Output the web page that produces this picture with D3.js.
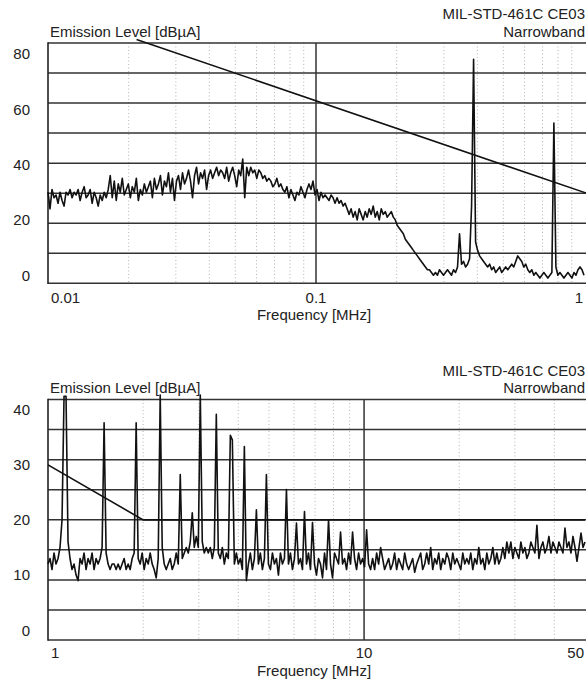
<!DOCTYPE html>
<html>
<head>
<meta charset="utf-8">
<script src="https://cdn.jsdelivr.net/npm/d3@7"></script>
<style>
  html, body { margin: 0; background: #fff; }
  svg { display: block; }
</style>
</head>
<body>
<div id="chart"></div>
<script>
// CE03 narrowband conducted emission scans, two sweeps (MHz, dBuA)

const titleLines = ['MIL-STD-461C CE03', 'Narrowband'];
const yTitle = 'Emission Level [dBµA]';
const xTitle = 'Frequency [MHz]';

// sweep 1: 10 kHz .. 1 MHz, log spaced receiver points
const lowSweep = [0.01, 1];
const lowTicks = [0.01, 0.1, 1];
const lowTickLabels = ['0.01', '0.1', '1'];
const lowYTicks = [0, 20, 40, 60, 80];
const lowLevels = [
  30, 24, 31, 28, 29, 26, 30, 27, 25, 30,
  29, 31, 28, 30, 29, 31, 27, 30, 32, 28,
  29, 31, 26, 30, 28, 25, 29, 27, 30, 28,
  31, 36, 28, 34, 27, 33, 30, 35, 29, 31,
  33, 28, 32, 30, 35, 27, 31, 29, 33, 30,
  32, 34, 28, 35, 31, 33, 36, 29, 34, 32,
  37, 30, 35, 27, 34, 36, 31, 37, 33, 35,
  38, 34, 28, 36, 39, 33, 37, 35, 38, 31,
  36, 38, 35, 37, 39, 36, 38, 37, 35, 39,
  34, 37, 39, 36, 32, 38, 36, 42, 28, 39,
  36, 39, 37, 38, 35, 38, 37, 35, 36, 34,
  35, 34, 32, 33, 35, 32, 33, 31, 30, 32,
  28, 31, 29, 27, 30, 29, 32, 30, 28, 31,
  33, 31, 34, 29, 31, 27, 30, 28, 29, 28,
  27, 29, 28, 26, 28, 26, 27, 25, 26, 24,
  22, 24, 21, 23, 20, 24, 22, 20, 23, 21,
  24, 22, 25, 21, 23, 20, 24, 22, 23, 21,
  22, 23, 21, 20, 18, 17, 16, 15, 13, 12,
  11, 10, 9, 8, 7, 6, 5, 4, 3, 2,
  2, 1, 0, 1, 0, 2, 1, 0, 1, 2,
  1, 0, 2, 1, 3, 15, 4, 5, 3, 4,
  6, 25, 78, 12, 9, 7, 6, 5, 4, 3,
  4, 2, 3, 1, 2, 3, 1, 2, 3, 2,
  3, 4, 3, 5, 7, 6, 5, 3, 4, 2,
  1, 2, 0, 1, 0, -1, 0, 1, 0, -1,
  0, 1, 55, 3, 0, 1, 0, -1, 0, 1,
  0, -1, 1, 0, 2, 3, 2, 0
];

// sweep 2: 1 .. 50 MHz
const highSweep = [1, 50];
const highTicks = [1, 10, 50];
const highTickLabels = ['1', '10', '50'];
const highYTicks = [0, 10, 20, 30, 40];
const highLevels = [
  12, 13, 11, 14, 12, 13, 15, 20, 42.4, 42.4,
  16, 13, 11, 12, 10, 9, 13, 12, 14, 11,
  13, 12, 14, 11, 13, 12, 13, 15, 37.6, 14,
  12, 11, 12, 12, 11, 12, 11, 12, 13, 11,
  12, 11, 13, 14, 37.6, 13, 12, 14, 11, 13,
  12, 14, 12, 11, 9.5, 13, 42.6, 15, 12, 11,
  12, 13, 11, 12, 14, 12, 28.2, 13, 14, 15,
  14, 16, 21.3, 15, 17, 15, 42.6, 16, 14, 15,
  14, 15, 13, 15, 39.1, 14, 13, 15, 12, 14,
  13, 35.3, 34.5, 12, 14, 12, 13, 11, 33.3, 9,
  12, 14, 11, 13, 21.8, 12, 14, 11, 13, 28.2,
  12, 11, 14, 12, 13, 10, 14, 12, 13, 25.5,
  12, 14, 11, 13, 19.4, 12, 13, 11, 21.5, 12,
  14, 11, 19.5, 12, 10, 13, 12, 9.5, 14, 11,
  20, 12, 9.5, 14, 13, 12, 17.8, 12, 13, 11,
  14, 12, 17.8, 13, 11, 14, 12, 13, 11.5, 18.2,
  12, 11, 13, 11, 14, 12, 15, 13, 11, 12,
  13, 11, 12, 14, 11, 13, 12, 11, 14, 12,
  11, 12, 13, 10.5, 12, 13, 14, 11, 12, 14,
  12, 15, 11, 13, 12, 14, 11, 13, 12, 14,
  13, 11, 14, 12, 13, 12, 11, 14, 12, 13,
  12, 14, 11, 13, 12, 15, 12, 13, 11, 14,
  12, 13, 15, 12, 14, 12, 13, 15, 13, 16,
  14, 16, 13, 15, 14, 13, 16, 14, 15, 13,
  14, 16, 15, 14, 19, 13, 15, 16, 14, 15,
  17, 14, 16, 15, 14, 16, 15, 14, 18.5, 15,
  16, 14, 17, 15, 12.5, 15, 17.6, 15, 16
];

// CE03 NB limit (break points)
const limitFreq = [0.0214, 2, 50];
const limitLevel = [85.2, 20, 20];

const W = 586, H = 685;
const FONT = '"Liberation Sans", Arial, sans-serif';

const svg = d3.select('#chart').append('svg')
  .attr('width', W).attr('height', H)
  .style('font-family', FONT)
  .style('font-size', '15px');

svg.append('rect').attr('width', W).attr('height', H).attr('fill', '#fff');

drawPanel({
  id: 'low', top: 43, bottom: 283.3, left: 48, right: 584,
  sweep: lowSweep, levels: lowLevels, yDomain: [-2.9, 83.9],
  xTicks: lowTicks, xLabels: lowTickLabels, yTicks: lowYTicks,
  tickOff: 19.4, titleOff: 37
});

drawPanel({
  id: 'high', top: 399.5, bottom: 640, left: 48, right: 585,
  sweep: highSweep, levels: highLevels, yDomain: [-1.76, 41.8],
  xTicks: highTicks, xLabels: highTickLabels, yTicks: highYTicks,
  tickOff: 17.7, titleOff: 35.5
});

function drawPanel(p) {
  const x = d3.scaleLog().domain(p.sweep).range([p.left, p.right]);
  const y = d3.scaleLinear().domain(p.yDomain).range([p.bottom, p.top]);
  const g = svg.append('g');

  // dotted minor verticals, solid decade lines
  const isDecade = t => Math.abs(Math.log10(t) - Math.round(Math.log10(t))) < 1e-6;
  const vt = x.ticks().filter(t => t > p.sweep[0] * 1.0001 && t < p.sweep[1] * 0.9999);
  g.selectAll('line.minor').data(vt.filter(t => !isDecade(t))).join('line')
    .attr('x1', d => x(d)).attr('x2', d => x(d))
    .attr('y1', p.top).attr('y2', p.bottom)
    .attr('stroke', '#b4b4b4').attr('stroke-width', 1)
    .attr('stroke-dasharray', '1,2.5');

  // 8 equal bands across the level axis
  const bands = d3.range(9).map(k => p.top + k * (p.bottom - p.top) / 8);
  g.selectAll('line.h').data(bands).join('line')
    .attr('x1', p.left).attr('x2', W)
    .attr('y1', d => d).attr('y2', d => d)
    .attr('stroke', '#333').attr('stroke-width', 1.5);

  g.selectAll('line.decade').data(vt.filter(isDecade)).join('line')
    .attr('x1', d => x(d)).attr('x2', d => x(d))
    .attr('y1', p.top).attr('y2', p.bottom)
    .attr('stroke', '#333').attr('stroke-width', 1.5);

  g.append('line')
    .attr('x1', p.left).attr('x2', p.left)
    .attr('y1', p.top - 0.75).attr('y2', p.bottom + 0.75)
    .attr('stroke', '#222').attr('stroke-width', 1.6);

  // limit line, clipped to the plot sides
  const clipId = 'clip-' + p.id;
  svg.append('clipPath').attr('id', clipId).append('rect')
    .attr('x', p.left).attr('y', p.top - 6)
    .attr('width', W - p.left).attr('height', p.bottom - p.top + 6);
  const limitPts = limitFreq.map((f, i) => [f, limitLevel[i]]);
  g.append('path')
    .attr('clip-path', `url(#${clipId})`)
    .attr('d', d3.line().x(d => x(d[0])).y(d => y(d[1]))(limitPts))
    .attr('fill', 'none').attr('stroke', '#111').attr('stroke-width', 1.6);

  // measured trace
  const n = p.levels.length;
  const x0 = x(p.sweep[0]), x1 = x(p.sweep[1]);
  const pts = p.levels.map((v, i) => [x.invert(x0 + (x1 - x0) * i / (n - 1)), v]);
  g.append('path')
    .attr('d', d3.line().x(d => x(d[0])).y(d => y(d[1]))(pts))
    .attr('fill', 'none').attr('stroke', '#111').attr('stroke-width', 1.6)
    .attr('stroke-linejoin', 'round');

  // level labels
  g.selectAll('text.yl').data(p.yTicks).join('text')
    .attr('x', 30).attr('y', d => y(d)).attr('dy', '0.36em')
    .attr('text-anchor', 'end').attr('fill', '#222')
    .text(d => d);

  // frequency labels
  g.selectAll('text.xl').data(p.xTicks).join('text')
    .attr('x', (d, i) => i === 0 ? x(d) + 3 : i === p.xTicks.length - 1 ? x(d) - 1 : x(d))
    .attr('y', p.bottom + p.tickOff)
    .attr('text-anchor', (d, i) => i === 0 ? 'start' : i === p.xTicks.length - 1 ? 'end' : 'middle')
    .attr('fill', '#222')
    .text((d, i) => p.xLabels[i]);

  g.append('text')
    .attr('x', 314).attr('y', p.bottom + p.titleOff)
    .attr('text-anchor', 'middle').attr('fill', '#222')
    .text(xTitle);

  g.append('text')
    .attr('x', 50).attr('y', p.top - 6.3)
    .attr('fill', '#222').text(yTitle);

  g.selectAll('text.title').data(titleLines).join('text')
    .attr('x', 585).attr('y', (d, i) => p.top - 24 + i * 17.5)
    .attr('text-anchor', 'end').attr('fill', '#222')
    .text(d => d);
}
</script>
</body>
</html>
